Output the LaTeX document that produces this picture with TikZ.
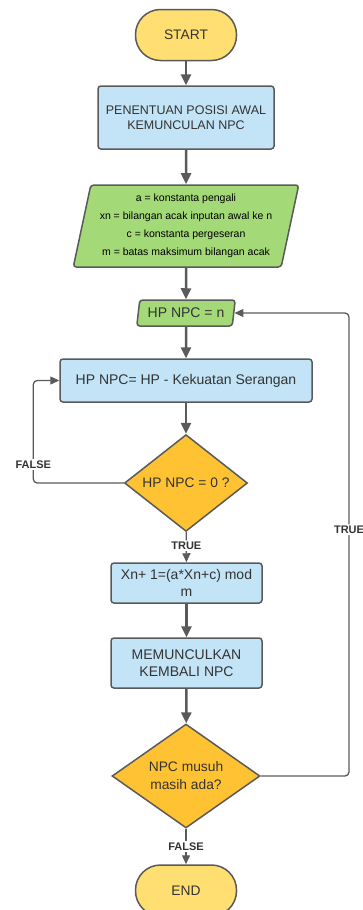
\documentclass[tikz,border=0pt]{standalone}
\usepackage{fontspec}
\setmainfont{Liberation Sans}
\usetikzlibrary{shapes.geometric,arrows.meta}

\definecolor{lineGrey}{HTML}{5A5A5A}
\definecolor{textGrey}{HTML}{333333}
\definecolor{termYellow}{HTML}{FFDF71}
\definecolor{procBlue}{HTML}{C3E4F6}
\definecolor{ioGreen}{HTML}{A3D977}
\definecolor{decOrange}{HTML}{FFC233}

\tikzset{
  startstop/.style={rectangle,rounded corners=25pt,draw=lineGrey,line width=1.5pt,fill=termYellow,
    minimum width=101pt,minimum height=51pt,text=textGrey,font=\fontsize{13.8}{16}\selectfont},
  procbox/.style={rectangle,rounded corners=3pt,draw=lineGrey,line width=1.5pt,fill=procBlue,
    inner sep=0pt,align=center,text=textGrey,font=\fontsize{14}{16.5}\selectfont},
  iobox/.style={trapezium,trapezium left angle=76,trapezium right angle=104,trapezium stretches,
    draw=lineGrey,line width=1.5pt,rounded corners=3pt,fill=ioGreen,inner sep=0pt,align=center,text=black},
  decide/.style={diamond,draw=lineGrey,line width=1.5pt,fill=decOrange,inner sep=0pt,align=center,
    text=textGrey,font=\fontsize{13.8}{18}\selectfont},
  flowline/.style={line width=2.5pt,lineGrey,-{Triangle[width=10pt,length=11pt]}},
  backline/.style={line width=1.3pt,lineGrey,rounded corners=4pt,-{Triangle[width=8pt,length=9pt]}},
  branchlabel/.style={fill=white,inner sep=1.5pt,text=textGrey,font=\bfseries\fontsize{11}{13}\selectfont}
}

\begin{document}
\begin{tikzpicture}[x=1pt,y=-1pt]
\useasboundingbox (0,0) rectangle (363,910);
\node (start)    at (186,35)    [startstop] {START};
\node (posisi)   at (186,117.5) [procbox,minimum width=176,minimum height=63,font=\fontsize{12.5}{15}\selectfont] {PENENTUAN POSISI AWAL\\KEMUNCULAN NPC};
\node (param)    at (186,226)   [iobox,minimum width=226,minimum height=82,font=\fontsize{10.5}{18}\selectfont]
  {a = konstanta pengali\\xn = bilangan acak inputan awal ke n\\c = konstanta pergeseran\\m = batas maksimum bilangan acak};
\node (hpAwal)   at (186,313)   [iobox,minimum width=99,minimum height=26,text=textGrey,font=\fontsize{14}{16}\selectfont] {HP NPC = n};
\node (serang)   at (186,380.5) [procbox,minimum width=252,minimum height=43] {HP NPC= HP - Kekuatan Serangan};
\node (cekHp)    at (186,483)   [decide,minimum width=123,minimum height=86] {HP NPC = 0 ?};
\node (acak)     at (186.5,583) [procbox,minimum width=151,minimum height=40] {Xn+ 1=(a*Xn+c) mod\\m};
\node (muncul)   at (186.5,663) [procbox,minimum width=151,minimum height=50,font=\fontsize{14}{17}\selectfont] {MEMUNCULKAN\\KEMBALI NPC};
\node (cekMusuh) at (186,776)   [decide,minimum width=148,minimum height=104] {NPC musuh\\masih ada?};
\node (end)      at (186,890.5) [startstop] {END};
\coordinate (balik) at (349,313);
\draw [flowline] (start)  -- (posisi);
\draw [flowline] (posisi) -- (param);
\draw [flowline] (param)  -- (hpAwal);
\draw [flowline] (hpAwal) -- (serang);
\draw [flowline] (serang) -- (cekHp);
\draw [backline] (cekHp) -- node [branchlabel,pos=0.45] {TRUE} (acak);
\draw [flowline] (acak)   -- (muncul);
\draw [flowline] (muncul) -- (cekMusuh);
\draw [backline] (cekMusuh) -- node [branchlabel] {FALSE} (end);
\draw [backline] (cekHp.west) -| node [branchlabel,pos=0.59] {FALSE} ([xshift=-26pt]serang.west) -- (serang.west);
\draw [backline] (cekMusuh.east) -| node [branchlabel,pos=0.766] {TRUE} (balik) -- (hpAwal.east);
\end{tikzpicture}
\end{document}
